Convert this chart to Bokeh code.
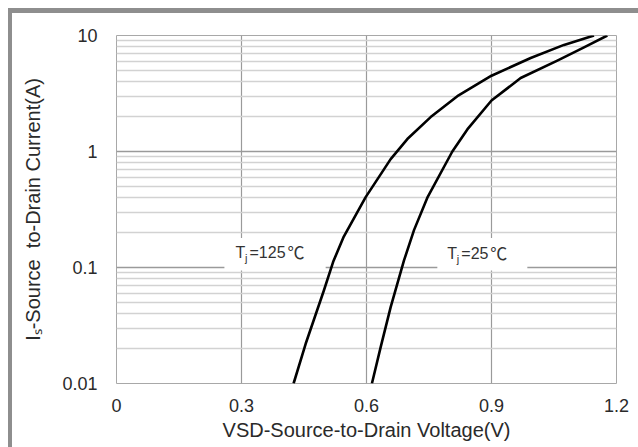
import numpy as np
from bokeh.plotting import figure
from bokeh.models import FixedTicker, Label, BoxAnnotation, Range1d
from bokeh.embed import file_html
from bokeh.resources import INLINE

# ---- data ----
v_125 = [0.425, 0.454, 0.4975, 0.52, 0.5455, 0.598, 0.658, 0.698, 0.754, 0.818, 0.900, 0.994, 1.074, 1.146]
i_125 = [0.01, 0.022, 0.063, 0.112, 0.185, 0.404, 0.86, 1.28, 1.98, 3.0, 4.5, 6.4, 8.3, 10.0]

v_25 = [0.613, 0.634, 0.658, 0.69, 0.714, 0.746, 0.806, 0.842, 0.900, 0.97, 1.058, 1.122, 1.178]
i_25 = [0.01, 0.0206, 0.0455, 0.115, 0.21, 0.40, 1.0, 1.55, 2.75, 4.3, 6.08, 7.9, 10.0]

x_ticks = [0, 0.3, 0.6, 0.9, 1.2]
x_tick_labels = ["0", "0.3", "0.6", "0.9", "1.2"]
y_ticks = [0.01, 0.1, 1, 10]
y_tick_labels = ["0.01", "0.1", "1", "10"]

label_125 = "=125"
label_25 = "=25"
deg_c = "\u2103"
x_title = "VSD-Source-to-Drain Voltage(V)"
y_title = "I\u209b-Source\u00a0 to-Drain Current(A)"

FONT = "Liberation Sans"
TXT = "#2a2a2a"
EDGE = "#8e8e8e"

p = figure(width=638, height=447, y_axis_type="log",
           x_range=Range1d(0, 1.2), y_range=Range1d(0.01, 10),
           output_backend="svg", toolbar_location=None,
           min_border_left=116, min_border_right=22,
           min_border_top=35, min_border_bottom=64)

# grey frame of the original picture (top and left edges), drawn behind a transparent border area
p.border_fill_color = None
p.background_fill_color = "white"
p.styles = {
    "background-color": "white",
    "background-image": f"linear-gradient({EDGE}, {EDGE}), linear-gradient({EDGE}, {EDGE})",
    "background-size": "100% 5px, 4px 100%",
    "background-position": "8px 8px, 8px 8px",
    "background-repeat": "no-repeat",
}

p.outline_line_color = "#a8a8a8"
p.outline_line_width = 1

# axes
p.xaxis.ticker = FixedTicker(ticks=x_ticks)
p.xaxis.major_label_overrides = {t: l for t, l in zip(x_ticks, x_tick_labels)}
minor_y = [m * 10.0 ** e for e in range(-2, 1) for m in range(2, 10)]
p.yaxis.ticker = FixedTicker(ticks=y_ticks, minor_ticks=minor_y)
p.yaxis.major_label_overrides = {t: l for t, l in zip(y_ticks, y_tick_labels)}

for ax in (p.xaxis[0], p.yaxis[0]):
    ax.axis_line_color = None
    ax.major_tick_line_color = None
    ax.minor_tick_line_color = None
    ax.major_tick_out = 0
    ax.major_tick_in = 0
    ax.minor_tick_out = 0
    ax.minor_tick_in = 0
    ax.major_label_text_font = FONT
    ax.major_label_text_font_size = "18px"
    ax.major_label_text_color = TXT
    ax.axis_label_text_font = FONT
    ax.axis_label_text_font_style = "normal"
    ax.axis_label_text_color = TXT
    ax.axis_label_text_font_size = "20px"

p.xaxis.major_label_standoff = 15
p.xaxis.axis_label = x_title
p.xaxis.axis_label_standoff = 4
p.yaxis.major_label_standoff = 19
p.yaxis.axis_label = y_title
p.yaxis.axis_label_standoff = 15

# grids
p.xgrid.grid_line_color = "#9a9a9a"
p.xgrid.grid_line_width = 1.2
p.ygrid.grid_line_color = "#9a9a9a"
p.ygrid.grid_line_width = 1.5
p.ygrid.minor_grid_line_color = "#d2d2d2"
p.ygrid.minor_grid_line_width = 1.5

# curves
p.line(v_125, i_125, line_color="black", line_width=2.6, line_join="round")
p.line(v_25, i_25, line_color="black", line_width=2.6, line_join="round")

# white boxes behind temperature labels
p.add_layout(BoxAnnotation(left=0.259, right=0.502, bottom=0.094, top=0.18,
                           fill_color="white", fill_alpha=1, line_color=None))
p.add_layout(BoxAnnotation(left=0.770, right=0.986, bottom=0.094, top=0.18,
                           fill_color="white", fill_alpha=1, line_color=None))

def temp_label(x0, y0, text, deg_off):
    common = dict(x=x0, y=y0, text_baseline="middle", text_align="left")
    p.add_layout(Label(text="T", text_font=FONT, text_font_size="16px",
                       text_color="#333333", **common))
    p.add_layout(Label(x_offset=9.5, y_offset=-6, text="j", text_font=FONT,
                       text_font_size="11px", text_color="#333333", **common))
    p.add_layout(Label(x_offset=14, text=text, text_font=FONT,
                       text_font_size="16px", text_color="#333333", **common))
    p.add_layout(Label(x_offset=deg_off, y_offset=1, text=deg_c, text_font="Noto Sans CJK SC",
                       text_font_size="17px", text_color="#333333", **common))

temp_label(0.2856, 0.135, label_125, 52)
temp_label(0.794, 0.133, label_25, 43)

open("out.html", "w").write(file_html(p, INLINE))
